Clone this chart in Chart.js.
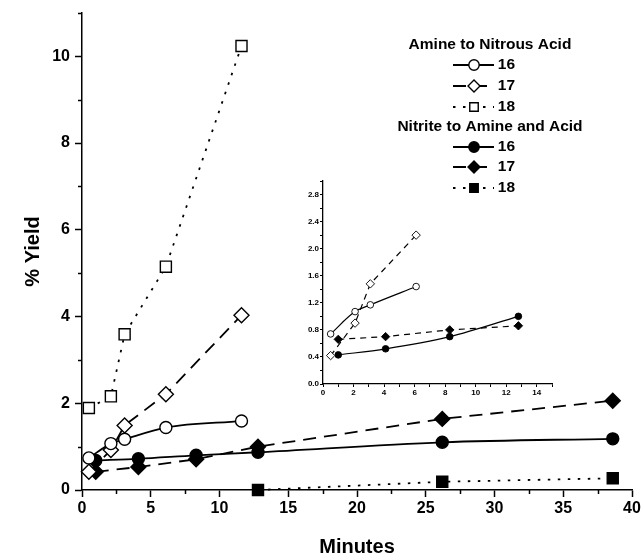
<!DOCTYPE html>
<html>
<head>
<meta charset="utf-8">
<script src="https://cdn.jsdelivr.net/npm/chart.js@4.4.0/dist/chart.umd.min.js"></script>
<style>
  html, body { margin: 0; padding: 0; background: #fff; overflow: hidden; }
  #wrap { position: relative; width: 644px; height: 557px; }
  #main { position: absolute; left: 0; top: 0; }
  #inset { position: absolute; left: 290px; top: 170px; }
</style>
</head>
<body>
<div id="wrap">
  <canvas id="main" width="644" height="557"></canvas>
  <canvas id="inset" width="270" height="230"></canvas>
</div>
<script>
// main plot data (minutes, % yield)
const timeAmine = [0.5, 2.1, 3.1, 6.1, 11.6];
const amine16 = [0.74, 1.07, 1.17, 1.44, 1.59];
const amine17 = [0.42, 0.92, 1.49, 2.21, 4.03];
const amine18 = [1.89, 2.16, 3.59, 5.15, 10.24];
const timeNitrite = [1.0, 4.1, 8.3, 12.8, 26.2, 38.6];
const nitrite16 = [0.68, 0.72, 0.80, 0.87, 1.10, 1.18];
const nitrite17 = [0.42, 0.53, 0.71, 1.00, 1.64, 2.06];
const timeNitrite18 = [12.8, 26.2, 38.6];
const nitrite18 = [0.00, 0.19, 0.27];

// inset data
const insetTimeAmine = [0.5, 2.1, 3.1, 6.1];
const insetAmine16 = [0.74, 1.07, 1.17, 1.44];
const insetAmine17 = [0.42, 0.90, 1.48, 2.20];
const insetTimeNitrite = [1.0, 4.1, 8.3, 12.8];
const insetNitrite16 = [0.43, 0.52, 0.70, 1.00];
const insetNitrite17 = [0.66, 0.70, 0.80, 0.86];

const groupTitles = ["Amine to Nitrous Acid", "Nitrite to Amine and Acid"];
const compoundLabels = ["16", "17", "18"];

const FONT = '"Liberation Sans", Arial, Helvetica, sans-serif';
Chart.defaults.font.family = FONT;
Chart.defaults.color = "#000";

const pts = (xs, ys) => xs.map((x, i) => ({ x: x, y: ys[i] }));

const dash = { "16": [], "17": [13, 8], "18": [2.5, 7.5] };
const shape = { "16": "circle", "17": "rectRot", "18": "rect" };

function series(label, data, filled, big) {
  return {
    label: label,
    data: data,
    showLine: true,
    borderColor: "#000",
    borderWidth: big ? 1.8 : 1.2,
    borderDash: big ? dash[label] : (label === "17" ? [6, 5] : []),
    tension: label === "16" ? 0.4 : 0,
    cubicInterpolationMode: label === "16" ? "monotone" : "default",
    pointStyle: shape[label],
    pointRadius: big ? (label === "16" ? 6 : label === "17" ? 7.5 : 7.8) : (label === "16" ? 3.3 : 4.2),
    pointBorderWidth: big ? 1.4 : 0.9,
    pointBorderColor: "#000",
    pointBackgroundColor: filled ? "#000" : "#fff",
    clip: false
  };
}

function drawMarker(ctx, style, x, y, r, filled) {
  ctx.beginPath();
  if (style === "circle") {
    ctx.arc(x, y, r, 0, Math.PI * 2);
  } else if (style === "rectRot") {
    ctx.moveTo(x, y - r); ctx.lineTo(x + r, y); ctx.lineTo(x, y + r); ctx.lineTo(x - r, y);
    ctx.closePath();
  } else {
    const s = r * Math.SQRT1_2;
    ctx.rect(x - s, y - s, 2 * s, 2 * s);
  }
  ctx.fillStyle = filled ? "#000" : "#fff";
  ctx.fill();
  ctx.setLineDash([]);
  ctx.lineWidth = 1.4;
  ctx.strokeStyle = "#000";
  ctx.stroke();
}

const groupLegend = {
  id: "groupLegend",
  afterDraw(chart) {
    const ctx = chart.ctx;
    const sets = chart.data.datasets;
    ctx.save();
    ctx.textBaseline = "middle";
    const titleY = [45, 127];
    const rowY = [[65, 86, 107], [147, 167, 188]];
    for (let g = 0; g < 2; g++) {
      ctx.font = "bold 15.5px " + FONT;
      ctx.textAlign = "center";
      ctx.fillStyle = "#000";
      ctx.fillText(groupTitles[g], 490, titleY[g]);
      for (let k = 0; k < 3; k++) {
        const ds = sets[g * 3 + k];
        const y = rowY[g][k];
        ctx.beginPath();
        ctx.setLineDash(ds.borderDash);
        ctx.lineDashOffset = 0;
        ctx.lineWidth = 1.8;
        ctx.strokeStyle = "#000";
        ctx.moveTo(453, y); ctx.lineTo(494, y);
        ctx.stroke();
        drawMarker(ctx, ds.pointStyle, 474, y, k === 0 ? 5.2 : 6, ds.pointBackgroundColor === "#000");
        ctx.font = "bold 15.5px " + FONT;
        ctx.textAlign = "right";
        ctx.fillStyle = "#000";
        ctx.fillText(compoundLabels[k], 515, y);
      }
    }
    ctx.restore();
  }
};

const minorTicks = {
  id: "minorTicks",
  afterDraw(chart) {
    const { ctx, chartArea, scales } = chart;
    ctx.save();
    ctx.strokeStyle = "#000";
    ctx.lineWidth = 1.5;
    ctx.setLineDash([]);
    for (let v = 1; v <= 11; v += 2) {
      const py = Math.round(scales.y.getPixelForValue(v)) + 0.5;
      ctx.beginPath(); ctx.moveTo(chartArea.left, py); ctx.lineTo(chartArea.left - 4, py); ctx.stroke();
    }
    for (let v = 2.5; v < 40; v += 5) {
      const px = Math.round(scales.x.getPixelForValue(v)) + 0.5;
      ctx.beginPath(); ctx.moveTo(px, chartArea.bottom); ctx.lineTo(px, chartArea.bottom + 4); ctx.stroke();
    }
    ctx.restore();
  }
};

new Chart(document.getElementById("main"), {
  type: "scatter",
  data: {
    datasets: [
      series("16", pts(timeAmine, amine16), false, true),
      series("17", pts(timeAmine, amine17), false, true),
      series("18", pts(timeAmine, amine18), false, true),
      series("16", pts(timeNitrite, nitrite16), true, true),
      series("17", pts(timeNitrite, nitrite17), true, true),
      series("18", pts(timeNitrite18, nitrite18), true, true)
    ]
  },
  options: {
    responsive: false,
    animation: false,
    layout: { padding: { top: 13, right: 12, left: 0, bottom: 0 } },
    plugins: { legend: { display: false }, tooltip: { enabled: false } },
    scales: {
      x: {
        type: "linear",
        min: 0, max: 40,
        ticks: { stepSize: 5, autoSkip: false, maxRotation: 0, padding: 2, font: { size: 16, weight: "bold" } },
        grid: { drawOnChartArea: false, tickLength: 7, tickWidth: 1.5, tickColor: "#000" },
        border: { color: "#000", width: 1.5 },
        title: { display: true, text: "Minutes", font: { size: 20, weight: "bold", lineHeight: 1 }, padding: { top: 0, bottom: 0 } },
        afterFit(s) { s.height = 67; s.paddingLeft = 0; s.paddingRight = 0; }
      },
      y: {
        min: 0, max: 11,
        ticks: { stepSize: 2, includeBounds: false, padding: 5, font: { size: 16, weight: "bold" } },
        grid: { drawOnChartArea: false, tickLength: 7, tickWidth: 1.5, tickColor: "#000" },
        border: { color: "#000", width: 1.5 },
        title: { display: true, text: "% Yield", font: { size: 20, weight: "bold", lineHeight: 1 }, padding: { top: 23, bottom: 0 } },
        afterFit(s) { s.width = 82; s.paddingTop = 0; s.paddingBottom = 0; }
      }
    }
  },
  plugins: [minorTicks, groupLegend]
});

new Chart(document.getElementById("inset"), {
  type: "scatter",
  data: {
    datasets: [
      series("16", pts(insetTimeAmine, insetAmine16), false, false),
      series("17", pts(insetTimeAmine, insetAmine17), false, false),
      series("16", pts(insetTimeNitrite, insetNitrite16), true, false),
      series("17", pts(insetTimeNitrite, insetNitrite17), true, false)
    ]
  },
  options: {
    responsive: false,
    animation: false,
    layout: { padding: { top: 11, right: 8, left: 0, bottom: 0 } },
    plugins: { legend: { display: false }, tooltip: { enabled: false } },
    scales: {
      x: {
        type: "linear",
        min: 0, max: 15,
        ticks: {
          stepSize: 1, autoSkip: false, maxRotation: 0, padding: 1,
          font: { size: 8, weight: "bold" },
          callback: v => (v % 2 === 0 ? v : "")
        },
        grid: { drawOnChartArea: false, tickLength: 3, tickWidth: 1, tickColor: "#000" },
        border: { color: "#000", width: 1.3 },
        afterFit(s) { s.height = 16; s.paddingLeft = 0; s.paddingRight = 0; }
      },
      y: {
        min: 0, max: 3,
        ticks: {
          stepSize: 0.2, padding: 1,
          font: { size: 8, weight: "bold" },
          callback: v => (Math.round(v * 10) % 4 === 0 ? v.toFixed(1) : "")
        },
        grid: { drawOnChartArea: false, tickLength: 3, tickWidth: 1, tickColor: "#000" },
        border: { color: "#000", width: 1.3 },
        afterFit(s) { s.width = 33; s.paddingTop = 0; s.paddingBottom = 0; }
      }
    }
  }
});
</script>
</body>
</html>
